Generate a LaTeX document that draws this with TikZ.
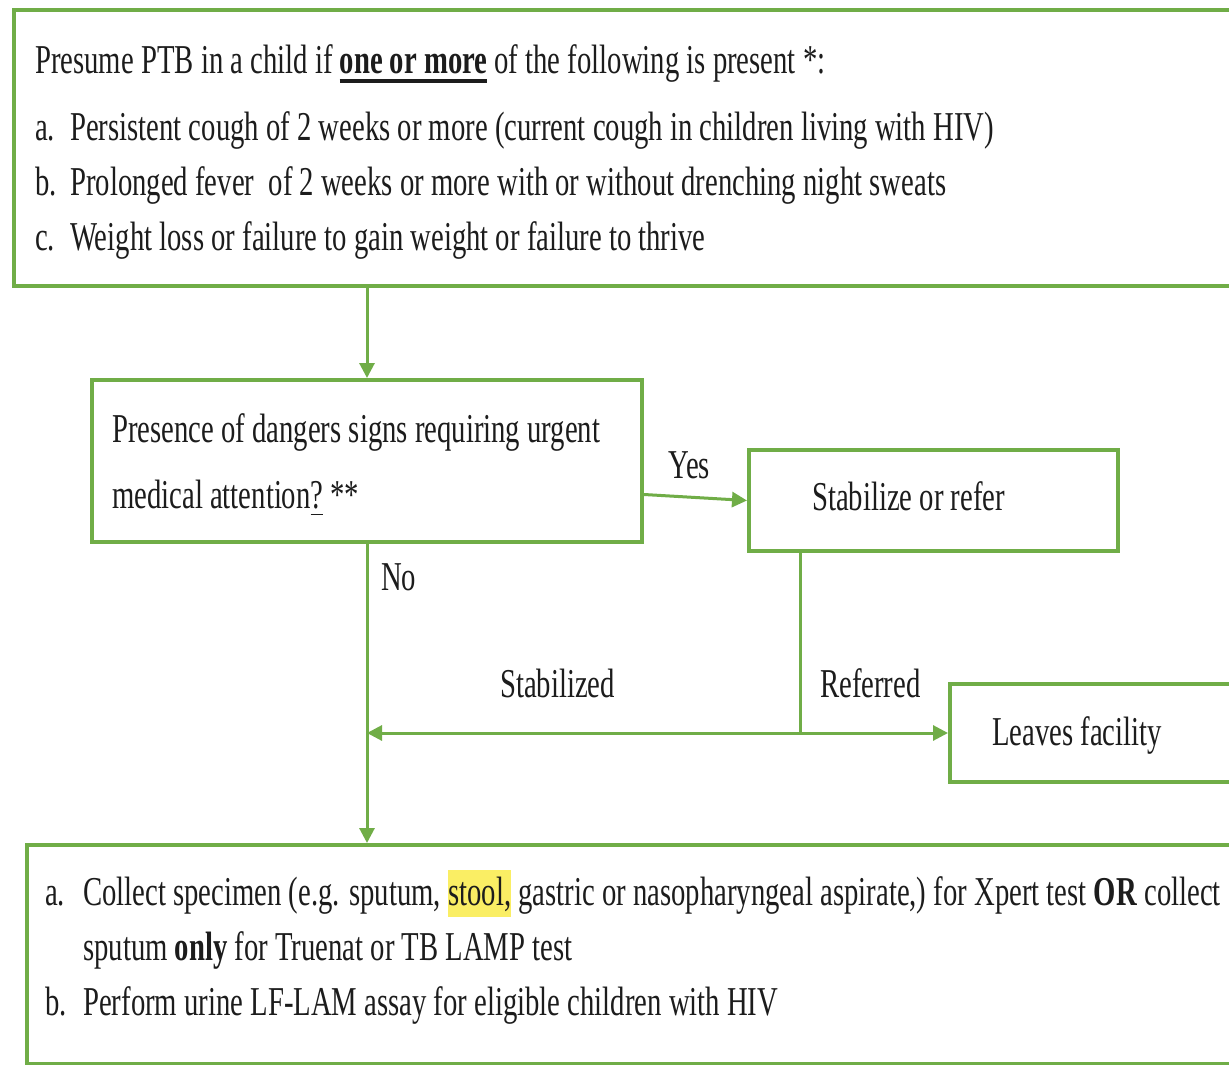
\documentclass[tikz,border=0pt]{standalone}
\usepackage{fontspec}
\setmainfont[FakeStretch=0.7]{Liberation Serif}
\usetikzlibrary{arrows.meta}
\definecolor{tbgreen}{RGB}{112,173,71}
\definecolor{tbtext}{RGB}{28,28,28}
\definecolor{tbhl}{RGB}{250,238,100}
\newcommand\tbfont{\fontsize{41pt}{50pt}\selectfont}
\newcommand\boldul[1]{\sbox0{#1}\rlap{\rule[-9pt]{\wd0}{4pt}}\usebox0}
\newcommand\thinul[1]{\sbox0{#1}\rlap{\rule[-7pt]{\wd0}{1.5pt}}\usebox0}
\newcommand\hlite[1]{{\setlength{\fboxsep}{0pt}\colorbox{tbhl}{\rule[-12pt]{0pt}{47pt}#1}}}
\begin{document}
\begin{tikzpicture}[x=1pt,y=-1pt,
  box/.style={draw=tbgreen, line width=4pt, fill=none, inner sep=0pt, anchor=north west},
  txt/.style={anchor=base west, inner sep=0pt, text=tbtext, font=\tbfont},
  conn/.style={draw=tbgreen, line width=3pt},
  arr/.style={conn, -{Triangle[length=15pt,width=15pt]}}]
\useasboundingbox (0,0) rectangle (1229,1065);
\fill[white] (0,0) rectangle (1229,1065);

% boxes
\node[box, minimum width=1240pt, minimum height=276pt] (top) at (12,8) {};
\node[box, minimum width=550pt, minimum height=162pt] (dec) at (90,378) {};
\node[box, minimum width=369pt, minimum height=101pt] (stab) at (747,448) {};
\node[box, minimum width=300pt, minimum height=98pt] (leave) at (948,682) {};
\node[box, minimum width=1230pt, minimum height=219pt] (bot) at (25,843) {};

% top text
\node[txt] (t0) at (35,74) {Presume PTB in a child if \boldul{\textbf{one or more}} of the following is present *:};
\node[txt] (ta) at (35,140) {a.};
\node[txt] (ta2) at (70,140) {Persistent cough of 2 weeks or more (current cough in children living with HIV)};
\node[txt] (tb) at (35,195) {b.};
\node[txt] (tb2) at (70,195) {Prolonged fever\ \ of 2 weeks or more with or without drenching night sweats};
\node[txt] (tc) at (35,250) {c.};
\node[txt] (tc2) at (70,250) {Weight loss or failure to gain weight or failure to thrive};

% decision text
\node[txt] (d1) at (112,442) {Presence of dangers signs requiring urgent};
\node[txt] (d2) at (112,508) {medical attention\thinul{?} **};

\node[txt] (s1) at (812,510) {Stabilize or refer};
\node[txt] (l1) at (992,745) {Leaves facility};

% labels
\node[txt] (yes) at (668,478) {Yes};
\node[txt] (no) at (381,590) {No};
\node[txt] (stz) at (500,697) {Stabilized};
\node[txt] (ref) at (820,697) {Referred};

% bottom text
\node[txt] (ba) at (45,905) {a.};
\node[txt] (ba2) at (83,905) {Collect specimen (e.g. sputum, \hlite{stool,} gastric or nasopharyngeal aspirate,) for Xpert test \textbf{OR} collect};
\node[txt] (ba3) at (83,960) {sputum \textbf{only} for Truenat or TB LAMP test};
\node[txt] (bb) at (45,1015) {b.};
\node[txt] (bb2) at (83,1015) {Perform urine LF-LAM assay for eligible children with HIV};

% connectors
\coordinate (j) at (800,733);
\draw[arr] (top.south -| dec.north) -- (dec.north);
\draw[arr] ([yshift=6pt]dec.east |- stab.west) -- (stab.west);
\draw[arr] (dec.south) -- (bot.north -| dec.south);
\draw[conn] (stab.south -| j) -- (j);
\draw[arr] (j) -- (j -| dec.south);
\draw[arr] (j) -- (leave.west |- j);
\end{tikzpicture}
\end{document}
